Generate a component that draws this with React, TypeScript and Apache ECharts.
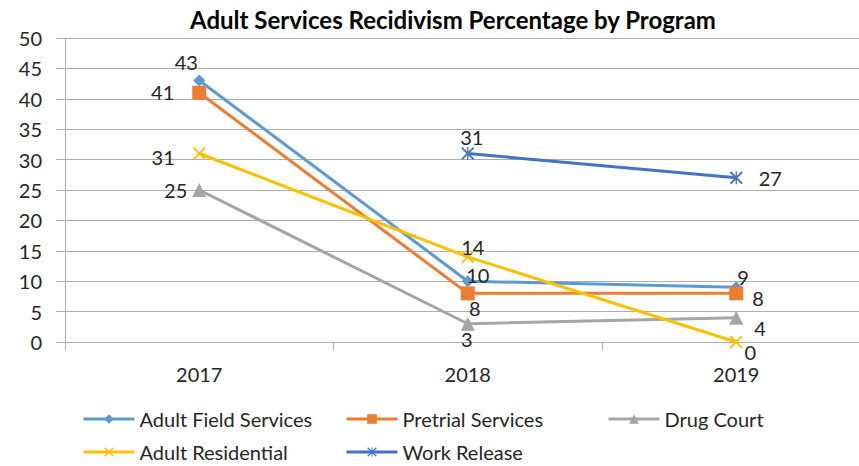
import React, { useEffect, useRef } from "react";
import * as echarts from "echarts";

const categories = ["2017", "2018", "2019"];
const yTicks = [0, 50, 5];
const adultFieldServices = [43, 10, 9];
const pretrialServices = [41, 8, 8];
const drugCourt = [25, 3, 4];
const adultResidential = [31, 14, 0];
const workRelease = [null, 31, 27];

const FONT = "Lato, 'Liberation Sans', sans-serif";
const TXT = "#262626";
const AXIS = "#ADADAD";

const xPath = "path://M0,1.2 L1.2,0 L6,4.8 L10.8,0 L12,1.2 L7.2,6 L12,10.8 L10.8,12 L6,7.2 L1.2,12 L0,10.8 L4.8,6 Z";
const starPath =
  "path://M0,1.2 L1.2,0 L6,4.8 L10.8,0 L12,1.2 L7.2,6 L12,10.8 L10.8,12 L6,7.2 L1.2,12 L0,10.8 L4.8,6 Z M5.4,0 L6.6,0 L6.6,12 L5.4,12 Z";

type LP = { position: string; offset: number[] };
function withLabels(vals: (number | null)[], lps: (LP | null)[]) {
  return vals.map((v, i) => {
    const lp = lps[i];
    if (v === null) return { value: null };
    return {
      value: v,
      label: lp ? { position: lp.position, offset: lp.offset } : undefined,
    };
  });
}

export default function App() {
  const ref = useRef<HTMLDivElement>(null);
  useEffect(() => {
    if (!ref.current) return;
    const chart = echarts.init(ref.current, undefined, { renderer: "svg" });
    const labelBase = { show: true, color: TXT, fontSize: 20, fontFamily: FONT };
    const mk = (name: string, color: string, symbol: string, size: number, data: any[]) => ({
      name,
      type: "line",
      data,
      symbol,
      symbolSize: size,
      showAllSymbol: true,
      connectNulls: false,
      lineStyle: { color, width: 3 },
      itemStyle: { color },
      label: labelBase,
    });
    const legendBase = {
      orient: "horizontal",
      padding: 0,
      itemWidth: 51,
      itemHeight: 12,
      itemGap: 6,
      lineStyle: { width: 3 },
      textStyle: { color: TXT, fontSize: 20, fontFamily: FONT, padding: [0, 0, 0, 0] },
    };
    chart.setOption({
      animation: false,
      backgroundColor: "#ffffff",
      title: {
        text: "Adult Services Recidivism Percentage by Program",
        left: 185,
        top: 2,
        textStyle: { color: "#000000", fontSize: 24, fontWeight: "bold", fontFamily: FONT },
      },
      legend: [
        { ...legendBase, data: ["Adult Field Services"], left: 82, top: 409 },
        { ...legendBase, data: ["Pretrial Services"], left: 345, top: 409 },
        { ...legendBase, data: ["Drug Court"], left: 607, top: 409 },
        { ...legendBase, data: ["Adult Residential"], left: 82, top: 442 },
        { ...legendBase, data: ["Work Release"], left: 345, top: 442 },
      ],
      grid: { left: 65, right: -11.5, top: 38, bottom: 124, containLabel: false, outerBoundsMode: "none" },
      xAxis: {
        type: "category",
        data: categories,
        boundaryGap: true,
        axisLine: { lineStyle: { color: AXIS, width: 1 } },
        axisTick: { show: true, length: 8, alignWithLabel: false, lineStyle: { color: AXIS } },
        axisLabel: { color: TXT, fontSize: 20, fontFamily: FONT, margin: 22 },
      },
      yAxis: {
        type: "value",
        min: yTicks[0],
        max: yTicks[1],
        interval: yTicks[2],
        axisLine: { show: true, lineStyle: { color: AXIS, width: 1 } },
        axisTick: { show: true, length: 9, lineStyle: { color: AXIS } },
        splitLine: { lineStyle: { color: AXIS, width: 1 } },
        axisLabel: { color: TXT, fontSize: 20, fontFamily: FONT, margin: 23 },
      },
      series: [
        mk("Adult Field Services", "#5B9BD5", "diamond", 12,
          withLabels(adultFieldServices, [
            { position: "top", offset: [-13, 2] },
            { position: "top", offset: [10, 15] },
            { position: "right", offset: [-10, -10] },
          ])),
        mk("Pretrial Services", "#ED7D31", "rect", 14,
          withLabels(pretrialServices, [
            { position: "left", offset: [-13, -1] },
            { position: "bottom", offset: [7, -7] },
            { position: "right", offset: [4, 5] },
          ])),
        mk("Drug Court", "#A5A5A5", "triangle", 14,
          withLabels(drugCourt, [
            { position: "left", offset: [0, 0] },
            { position: "bottom", offset: [-1, -7] },
            { position: "right", offset: [6, 10] },
          ])),
        mk("Adult Residential", "#FFC000", xPath, 13,
          withLabels(adultResidential, [
            { position: "left", offset: [-13, 3] },
            { position: "top", offset: [5, 12] },
            { position: "bottom", offset: [14, -12] },
          ])),
        mk("Work Release", "#4472C4", starPath, 13,
          withLabels(workRelease, [
            null,
            { position: "top", offset: [4, 5] },
            { position: "right", offset: [11, 0] },
          ])),
      ],
    });
    return () => chart.dispose();
  }, []);
  return <div ref={ref} style={{ width: 859, height: 466, position: "absolute", left: 0, top: 0 }} />;
}
